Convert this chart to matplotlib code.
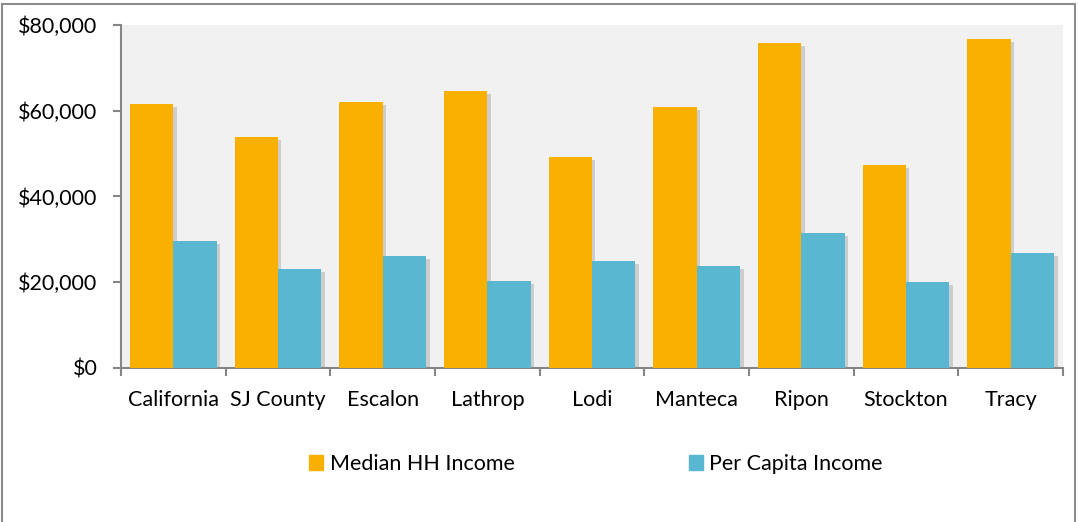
import matplotlib.pyplot as plt
import matplotlib.patheffects as pe
from matplotlib.patches import Rectangle, Patch
from matplotlib.ticker import FuncFormatter, FixedLocator
import numpy as np

plt.rcParams['font.family'] = ['Lato', 'DejaVu Sans']

places = ["California", "SJ County", "Escalon", "Lathrop", "Lodi",
          "Manteca", "Ripon", "Stockton", "Tracy"]
median_hh = [61600, 53900, 62000, 64600, 49200, 60900, 75800, 47300, 76700]
per_capita = [29600, 23100, 26100, 20300, 25000, 23800, 31500, 20100, 26800]

orange = "#FAB000"
blue = "#5AB7D1"
axis_gray = "#868686"
fs = 15.5

fig = plt.figure(figsize=(10.78, 5.22), dpi=100)
ax = fig.add_axes([121 / 1078, 1 - 368 / 522, (1063 - 121) / 1078, (368 - 25) / 522])

x = np.arange(len(places))
w = 0.415
shadow = [pe.SimplePatchShadow(offset=(2.5, -2), shadow_rgbFace="#8a8a8a", alpha=0.35), pe.Normal()]

b1 = ax.bar(x - w / 2, median_hh, w, color=orange, zorder=3)
b2 = ax.bar(x + w / 2, per_capita, w, color=blue, zorder=3)
for bar in list(b1) + list(b2):
    bar.set_path_effects(shadow)

ax.set_facecolor("#F1F1F1")
ax.set_xlim(-0.5, len(places) - 0.5)
ax.set_ylim(0, 80000)
ax.set_yticks(range(0, 80001, 20000))
ax.yaxis.set_major_formatter(FuncFormatter(lambda v, p: f"${v:,.0f}"))

# category labels centred, ticks on the boundaries
ax.set_xticks(x)
ax.set_xticklabels(places)
ax.xaxis.set_minor_locator(FixedLocator(np.arange(-0.5, len(places), 1.0)))
ax.tick_params(axis="x", which="major", length=0, pad=16, labelsize=fs)
ax.tick_params(axis="x", which="minor", length=6, width=1.5, color=axis_gray)
ax.tick_params(axis="y", length=6, width=1.5, color=axis_gray, labelsize=fs, pad=11)

for s in ["top", "right"]:
    ax.spines[s].set_visible(False)
for s in ["left", "bottom"]:
    ax.spines[s].set_color(axis_gray)
    ax.spines[s].set_linewidth(1.5)

handles = [Patch(color=orange, label="Median HH Income"),
           Patch(color=blue, label="Per Capita Income")]
fig.legend(handles=handles, loc="center", bbox_to_anchor=(596 / 1078, 1 - 464 / 522),
           ncol=2, frameon=False, fontsize=fs, handlelength=0.65, handleheight=0.65,
           handletextpad=0.3, columnspacing=8.1)

# outer chart border (bottom edge falls outside the image)
fig.patches.append(Rectangle((2 / 1078, -0.02), 1073 / 1078, 1.02 - 4 / 522, transform=fig.transFigure,
                             fill=False, edgecolor="#8c8c8c", linewidth=1.5))

fig.savefig("out.png", dpi=100)
